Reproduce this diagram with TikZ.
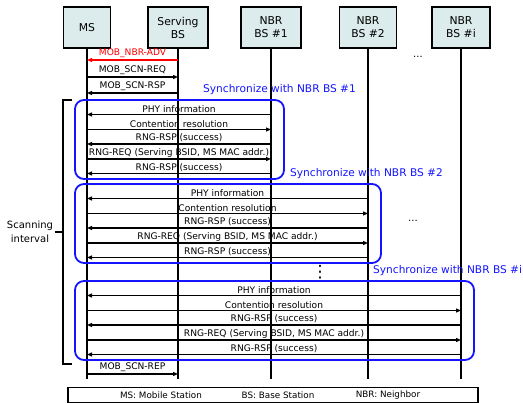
\documentclass[tikz,border=0pt]{standalone}
\usepackage{fontspec}
\setmainfont{DejaVu Sans}
\usepackage{xcolor}
\usetikzlibrary{calc}
\usetikzlibrary{arrows.meta}
\definecolor{hdrfill}{RGB}{220,236,236}
\definecolor{syncblue}{RGB}{20,20,255}

\tikzset{
  hdr/.style={draw,line width=1.6pt,fill=hdrfill,minimum height=41pt,
    align=center,inner sep=1pt,font=\fontsize{10.8}{13}\selectfont},
  life/.style={line width=1.8pt},
  msg/.style={line width=1.1pt},
  fwd/.style={-{Triangle[length=5pt,width=4pt]}},
  back/.style={{Triangle[length=5pt,width=4pt]}-},
  lbl/.style={above,inner sep=1.5pt,font=\fontsize{9.1}{10}\selectfont},
  syncbox/.style={draw=syncblue,line width=1.8pt,rounded corners=9pt},
  synctxt/.style={anchor=west,inner sep=0pt,text=syncblue,font=\fontsize{10.6}{11}\selectfont}
}

\begin{document}
\begin{tikzpicture}[x=1pt,y=-1pt]
  \useasboundingbox (0,0) rectangle (523,403);
  % entities
  \node[hdr,minimum width=47pt] (ms) at (87,27.5) {MS};
  \node[hdr,minimum width=60pt] (sbs) at (178,27.5) {Serving\\BS};
  \node[hdr,minimum width=60pt] (nbra) at (271,27.5) {NBR\\BS \#1};
  \node[hdr,minimum width=57pt] (nbrb) at (368,27.5) {NBR\\BS \#2};
  \node[hdr,minimum width=58pt] (nbri) at (461,27.5) {NBR\\BS \#i};
  \foreach \e in {ms,sbs,nbra,nbrb,nbri}
    \draw[life] (\e.south) -- (\e.south |- 0,379);

  % serving BS messages
  \draw[msg,back,red] (ms |- 0,60) -- (sbs |- 0,60) node[lbl,midway,text=red] {MOB\_NBR-ADV};
  \draw[msg,fwd] (ms |- 0,77) -- (sbs |- 0,77) node[lbl,midway] {MOB\_SCN-REQ};
  \draw[msg,back] (ms |- 0,93) -- (sbs |- 0,93) node[lbl,midway] {MOB\_SCN-RSP};
  \node (dotsa) at (418,57) {...};

  % synchronisation with each neighbour
  \foreach \nbr/\top/\tx/\k in {nbra/100/203/1,nbrb/184/290/2,nbri/281/373/i}{
    \draw[syncbox] ($(ms |- 0,\top)+(-12,0)$) rectangle ($(\nbr |- 0,\top)+(13,79)$);
    \node[synctxt] (sync\k) at (\tx,\top-10) {Synchronize with NBR BS \#\k};
    \draw[msg,back] (ms |- 0,\top+14.5) -- (\nbr |- 0,\top+14.5) node[lbl,midway] {PHY information};
    \draw[msg,fwd] (ms |- 0,\top+29.5) -- (\nbr |- 0,\top+29.5) node[lbl,midway] {Contention resolution};
    \draw[msg,back] (ms |- 0,\top+44) -- (\nbr |- 0,\top+44) node[lbl,midway] {RNG-RSP (success)};
    \draw[msg,fwd] (ms |- 0,\top+59) -- (\nbr |- 0,\top+59) node[lbl,midway] {RNG-REQ (Serving BSID, MS MAC addr.)};
    \draw[msg,back] (ms |- 0,\top+73.5) -- (\nbr |- 0,\top+73.5) node[lbl,midway] {RNG-RSP (success)};
  }
  \node (dotsb) at (413,221) {...};
  \node[font=\fontsize{17}{17}\selectfont,inner sep=0pt] (vdots) at (320,272) {⋮};

  \draw[msg,fwd] (ms |- 0,374) -- (sbs |- 0,374) node[lbl,midway] {MOB\_SCN-REP};

  % scanning interval bracket
  \draw[line width=1.6pt] (72,100) -- (63,100) -- (63,364) -- (72,364);
  \draw[line width=2.6pt] (63,232) -- (55,232);
  \node[align=center,font=\fontsize{10}{14}\selectfont] (scan) at (30,232) {Scanning\\interval};

  % legend
  \node[draw,line width=1.4pt,minimum width=410pt,minimum height=15pt] (legend) at (273,395) {};
  \node[font=\fontsize{8.8}{10}\selectfont] (lgms) at (161,395) {MS: Mobile Station};
  \node[font=\fontsize{8.8}{10}\selectfont] (lgbs) at (278,395) {BS: Base Station};
  \node[font=\fontsize{8.8}{10}\selectfont] (lgnbr) at (388,395) {NBR: Neighbor};
\end{tikzpicture}
\end{document}
